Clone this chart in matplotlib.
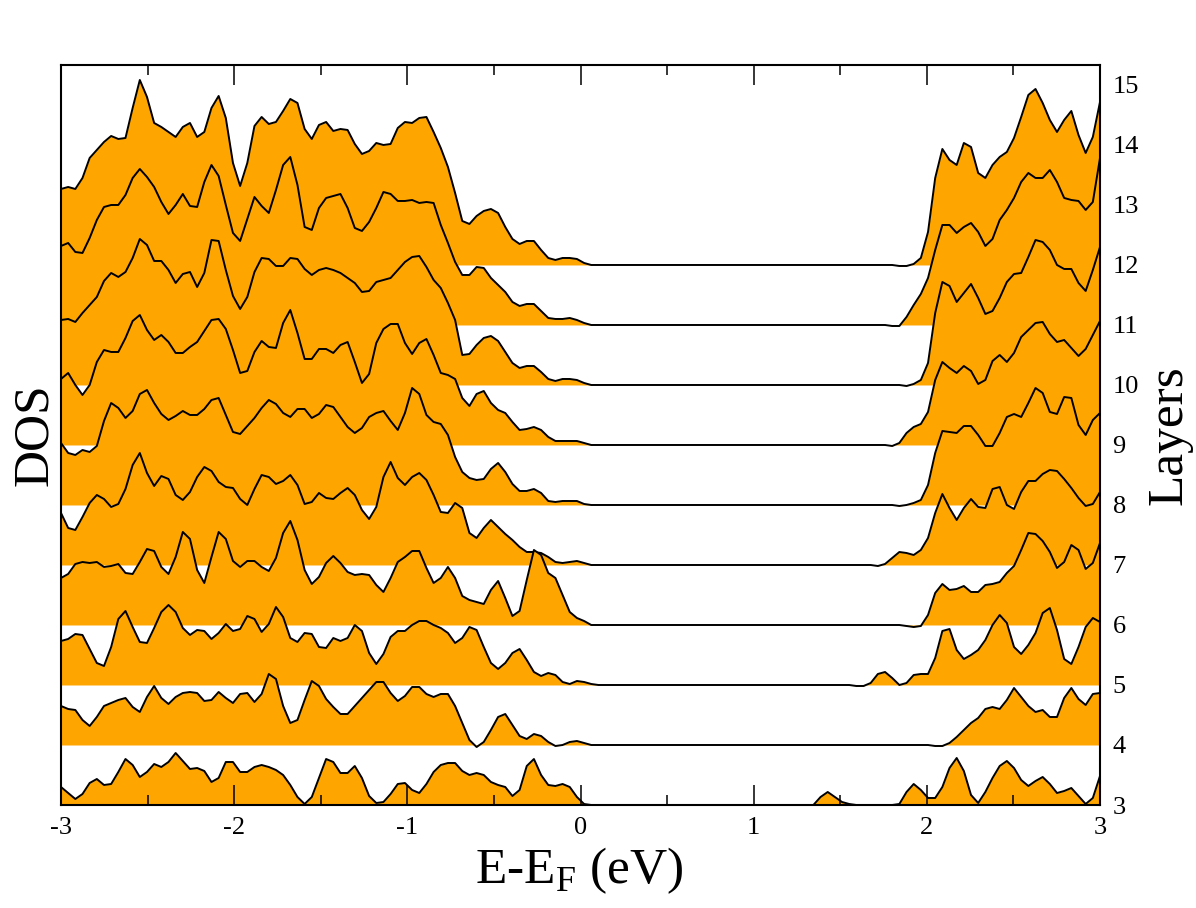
import numpy as np
import matplotlib
matplotlib.use("Agg")
import matplotlib.pyplot as plt

plt.rcParams['font.family'] = ['Liberation Serif', 'DejaVu Serif']
plt.rcParams['mathtext.fontset'] = 'custom'
plt.rcParams['mathtext.rm'] = 'Liberation Serif'
plt.rcParams['axes.unicode_minus'] = False

# energy grid: valence side and conduction side; the gap between has zero DOS
STEP = 6 / 145
N_LEFT = 76
N_RIGHT = 41
energy_left = -3 + STEP * np.arange(N_LEFT)
energy_right = 3 - STEP * np.arange(N_RIGHT - 1, -1, -1)

# DOS per layer (arbitrary units; 60 units = one layer spacing)
dos_left = {}
dos_right = {}

dos_left[12] = [76,78,76,87,107,115,123,129,126,127,157,185,168,142,138,133,128,138,142,128,133,157,169,147,102,79,102,139,148,141,143,154,166,162,136,126,140,143,
                134,136,135,121,111,114,122,120,121,137,143,142,147,148,133,117,98,72,44,41,49,54,56,52,38,26,21,24,24,15,7,5,7,7,6,2,0,0]
dos_left[11] = [79,82,73,72,87,105,118,120,120,130,147,156,148,138,123,111,120,131,119,118,143,160,149,120,92,84,106,128,119,112,135,160,168,140,98,95,117,127,
                129,131,117,97,94,103,117,133,131,124,124,125,122,123,122,100,82,63,50,50,58,57,47,40,33,23,19,21,21,14,7,6,6,7,5,2,0,0]
dos_left[10] = [65,66,63,72,80,88,104,112,108,113,127,146,140,124,124,115,102,111,113,98,112,145,144,115,89,76,88,113,127,126,119,119,127,126,116,110,115,117,
                115,112,107,102,93,94,103,105,107,115,123,128,129,118,105,97,82,65,30,31,40,47,49,44,33,22,17,19,19,13,6,4,6,6,5,2,0,0]
dos_left[9] = [66,72,60,50,60,83,95,93,93,107,124,130,115,105,110,103,92,92,98,103,114,125,126,116,95,72,74,93,104,98,97,122,135,112,86,86,96,96,
               92,100,103,83,62,71,102,116,121,121,102,91,102,106,90,72,70,66,47,39,51,54,42,35,32,23,15,16,18,15,8,4,4,4,4,2,0,0]
dos_left[8] = [62,52,50,55,53,59,84,102,97,87,94,111,115,102,91,85,89,94,90,90,96,105,107,90,73,71,79,87,97,105,101,92,88,96,96,87,91,100,
               98,88,78,72,77,88,92,94,84,75,92,117,111,90,83,81,70,48,33,27,25,26,36,42,33,21,14,14,16,12,4,3,4,4,4,1,0,0]
dos_left[7] = [52,37,35,48,62,70,66,58,61,76,100,112,92,79,89,86,70,65,73,88,98,94,83,78,77,66,60,76,90,88,81,84,90,80,61,63,72,67,
               66,72,77,70,55,46,58,88,103,87,80,88,92,85,70,53,52,62,57,32,27,37,45,38,31,25,18,13,13,12,8,3,2,3,4,2,0,0]
dos_left[6] = [47,51,61,63,62,63,58,59,61,52,51,63,76,74,58,51,68,93,86,55,42,68,93,86,64,58,64,64,58,54,67,92,104,85,55,41,48,62,
               69,62,53,50,51,50,40,33,47,63,68,74,74,57,42,47,58,47,29,25,23,21,35,44,27,9,14,45,75,70,52,47,30,13,7,4,0,0]
dos_left[5] = [44,46,51,50,36,22,19,38,66,74,58,43,42,57,73,80,73,57,50,55,54,46,52,61,54,56,69,66,53,61,78,68,47,43,52,51,38,37,
               47,44,47,60,54,32,21,31,48,54,54,60,64,64,60,57,52,42,47,58,55,38,22,16,22,32,36,25,13,9,12,10,3,1,4,3,1,0]
dos_left[4] = [39,36,35,25,19,28,39,42,45,47,38,33,48,59,47,41,48,52,53,52,44,45,53,47,42,51,52,43,51,71,66,39,22,25,45,64,59,46,
               38,31,31,39,47,55,63,63,52,44,49,58,58,51,48,51,51,39,22,5,-2,3,15,28,31,20,9,6,11,9,3,-1,0,3,4,2,0,0]
dos_left[3] = [18,12,6,11,22,26,20,21,33,46,40,28,33,41,38,43,52,44,36,37,34,23,27,43,43,33,33,38,40,38,35,30,20,8,1,8,27,46,
               43,32,32,39,27,9,2,3,11,21,22,15,12,21,33,40,42,42,34,30,32,30,23,20,18,9,15,39,46,30,20,19,21,18,8,1,0,0]

dos_right[12] = [0,0,0,0,0,0,0,0,0,0,0, 0,-1,-1,1,7,33,87,116,105,100,122,118,92,87,100,108,113,127,148,170,176,162,145,133,145,154,130,112,128,163]
dos_right[11] = [0,0,0,0,0,0,0,0,0,0,0, -1,-1,8,20,31,47,75,100,100,92,98,102,93,79,86,105,115,127,143,152,147,147,155,143,127,125,124,115,123,167]
dos_right[10] = [0,0,0,0,0,0,0,0,0,0,0, 0,0,-1,1,5,22,72,103,99,83,92,101,87,71,74,87,103,111,112,128,145,143,135,120,116,116,102,94,115,138]
dos_right[9] = [0,0,0,0,0,0,0,0,0,0,0, -1,2,12,18,21,33,65,83,77,72,79,74,61,65,84,90,83,92,108,115,122,123,111,103,105,97,89,96,110,124]
dos_right[8] = [0,0,0,0,0,0,0,0,0,0,0, 0,-1,0,2,5,20,52,74,73,72,79,79,70,59,59,72,88,91,88,102,117,112,93,91,108,107,80,70,85,92]
dos_right[7] = [0,0,0,0,0,0,0,0,0, -1,1,7,13,12,10,15,27,52,71,57,45,57,66,58,57,76,78,60,56,73,84,84,91,95,94,86,77,67,59,61,73]
dos_right[6] = [0,0,0,0,0,0,0,0,0,0,0,0, 0,-1,-2,-1,10,32,41,35,36,39,33,33,40,41,43,52,59,75,92,91,84,73,57,63,80,75,56,62,82]
dos_right[5] = [0,0,0,0,0, 0,-1,-1,2,11,13,7,0,2,10,11,11,27,54,56,35,26,30,35,45,60,70,62,38,31,40,52,72,77,55,26,21,38,58,67,63]
dos_right[4] = [0,0,0,0,0,0,0,0,0,0,0,0,0,0,0,0, 0,-1,-1,2,8,15,22,27,36,38,36,45,57,48,39,33,35,28,28,47,57,46,40,51,52]
dos_right[3] = [0,8,13,8,3,1,0,0,0,0,0,0,1,13,21,15,7,7,18,37,47,34,10,2,13,27,39,44,37,25,19,24,28,21,12,14,17,9,1,7,29]

layers = [12, 11, 10, 9, 8, 7, 6, 5, 4, 3]
layer_ticks = list(range(3, 16))
energy_ticks = [-3, -2, -1, 0, 1, 2, 3]
energy_minor_ticks = [-2.5, -1.5, -0.5, 0.5, 1.5, 2.5]
DOS_PER_LAYER = 60.0

FILL = '#FFA500'

fig = plt.figure(figsize=(11.96, 9.08), dpi=100)
W, H = 1196, 908
ax = fig.add_axes([61 / W, 1 - 805 / H, (1100 - 61) / W, (805 - 65) / H])

energy = np.concatenate([energy_left, energy_right])
for layer in layers:
    dos = np.array(dos_left[layer] + dos_right[layer], dtype=float)
    y = layer + dos / DOS_PER_LAYER
    ax.fill_between(energy, layer, y, color=FILL, linewidth=0, zorder=1)
    ax.plot(energy, y, color='black', lw=1.4, zorder=1, solid_joinstyle='round')

ax.set_xlim(-3, 3)
ax.set_ylim(3, 15.333)
ax.set_xticks(energy_ticks)
ax.set_xticks(energy_minor_ticks, minor=True)
ax.set_xticklabels([str(t) for t in energy_ticks])
ax.set_yticks(layer_ticks)
ax.yaxis.tick_right()
ax.tick_params(axis='x', which='major', direction='in', top=True, bottom=True,
               length=14.4, width=1.1, labelsize=19, pad=9)
ax.tick_params(axis='x', which='minor', direction='in', top=True, bottom=True,
               length=7, width=1.1)
ax.tick_params(axis='y', which='major', length=0, labelsize=19, pad=9, right=False)
for s in ax.spines.values():
    s.set_linewidth(1.5)

fig.text(579 / W, 1 - 871 / H, r'E-E$_{\mathrm{F}}$ (eV)', fontsize=37, ha='center', va='center')
fig.text(35 / W, 1 - 435 / H, 'DOS', fontsize=37, rotation=90, ha='center', va='center')
fig.text(1169 / W, 1 - 435 / H, 'Layers', fontsize=37, rotation=90, ha='center', va='center')

fig.savefig('out.png', dpi=100)
